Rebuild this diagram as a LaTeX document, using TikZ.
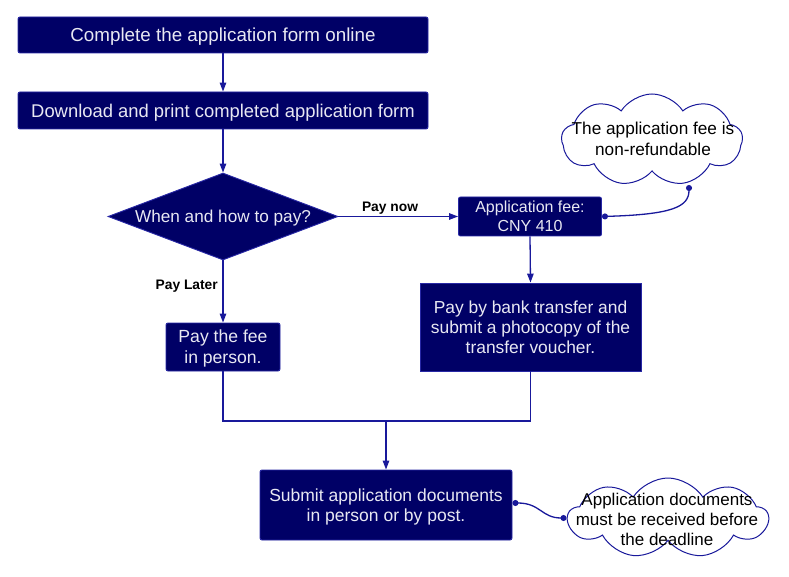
\documentclass[tikz,border=0pt]{standalone}
\usepackage{fontspec}
\setmainfont{Liberation Sans}
\usetikzlibrary{arrows.meta,shapes.geometric,shapes.symbols,calc}
\definecolor{boxfill}{RGB}{0,0,102}
\definecolor{boxline}{RGB}{40,40,165}
\definecolor{conn}{RGB}{25,25,155}
\definecolor{boxtext}{RGB}{232,232,242}
\tikzset{
  x=1pt,y=-1pt,
  procbox/.style={draw=boxline, line width=0.9pt, fill=boxfill, text=boxtext, rounded corners=2pt,
    align=center, inner sep=0pt, text depth=0pt},
  sqbox/.style={procbox, rounded corners=0pt},
  decision/.style={diamond, draw=boxline, line width=0.9pt, fill=boxfill, text=boxtext,
    inner sep=0pt, aspect=2.64, text depth=0pt},
  note/.style={cloud, cloud puffs=9, cloud puff arc=115, cloud ignores aspect, draw=conn,
    line width=1pt, fill=white, inner sep=0pt},
  notetext/.style={align=center, text=black, inner sep=0pt, text depth=0pt},
  flow/.style={draw=conn, line width=1.3pt, -{Triangle[length=9pt,width=6.5pt]}},
  link/.style={draw=conn, line width=1.3pt},
  tie/.style={draw=conn, line width=1.3pt, {Circle[length=6pt]}-{Circle[length=6pt]}},
  edgelabel/.style={text=black, font=\fontsize{13.8}{15}\selectfont\bfseries, inner sep=0pt}
}
\begin{document}
\begin{tikzpicture}
\useasboundingbox (0,0) rectangle (789,577);
\node[procbox, minimum width=410pt, minimum height=36pt, font=\fontsize{18.8}{21}\selectfont] (b1) at (223,35) {Complete the application form online};
\node[procbox, minimum width=410pt, minimum height=37pt, font=\fontsize{18.4}{21}\selectfont] (b2) at (223,110.5) {Download and print completed application form};
\node[decision, minimum width=230pt, minimum height=87pt, font=\fontsize{17.2}{20}\selectfont] (dec) at (223,216.5) {When and how to pay?};
\node[procbox, minimum width=143pt, minimum height=39pt, font=\fontsize{16}{19}\selectfont] (fee) at (530,216.5) {Application fee:\\CNY 410};
\node[procbox, minimum width=114pt, minimum height=48pt, font=\fontsize{17.6}{21}\selectfont] (later) at (223,347) {Pay the fee\\in person.};
\node[sqbox, minimum width=221pt, minimum height=88pt, font=\fontsize{17.4}{20}\selectfont] (bank) at (530.5,327) {Pay by bank transfer and\\submit a photocopy of the\\transfer voucher.};
\node[procbox, minimum width=252pt, minimum height=70pt, font=\fontsize{17.5}{20}\selectfont] (submit) at (386,505) {Submit application documents\\in person or by post.};
\node[note, minimum width=181pt, minimum height=92pt] (cloudA) at (652,140) {};
\node[notetext, font=\fontsize{17.2}{21}\selectfont] (cloudAtext) at (653,139) {The application fee is\\non-refundable};
\node[note, minimum width=200pt, minimum height=80pt] (cloudB) at (668,518) {};
\node[notetext, font=\fontsize{17}{20}\selectfont] (cloudBtext) at (667,519) {Application documents\\must be received before\\the deadline};
\coordinate (merge) at (386,421);
\draw[flow] (b1.south) -- (b2.north);
\draw[flow] (b2.south) -- (dec.north);
\draw[flow] (dec.east) -- (fee.west);
\node[edgelabel] (paynow) at (390,208) {Pay now};
\draw[flow] (dec.south) -- (later.north);
\node[edgelabel, anchor=east] (paylater) at (218,286) {Pay Later};
\draw[flow] (fee.south) -- (bank.north);
\draw[link] (later.south) |- (merge) -| (bank.south);
\draw[flow] (merge) -- (submit.north);
\draw[tie] (fee.east) .. controls +(70,-2) and +(0,22) .. ($(cloudA.center)+(37,45)$);
\draw[tie] ([yshift=2pt]submit.east) .. controls +(28,0) and +(-25,0) .. (cloudB.west);
\end{tikzpicture}
\end{document}
